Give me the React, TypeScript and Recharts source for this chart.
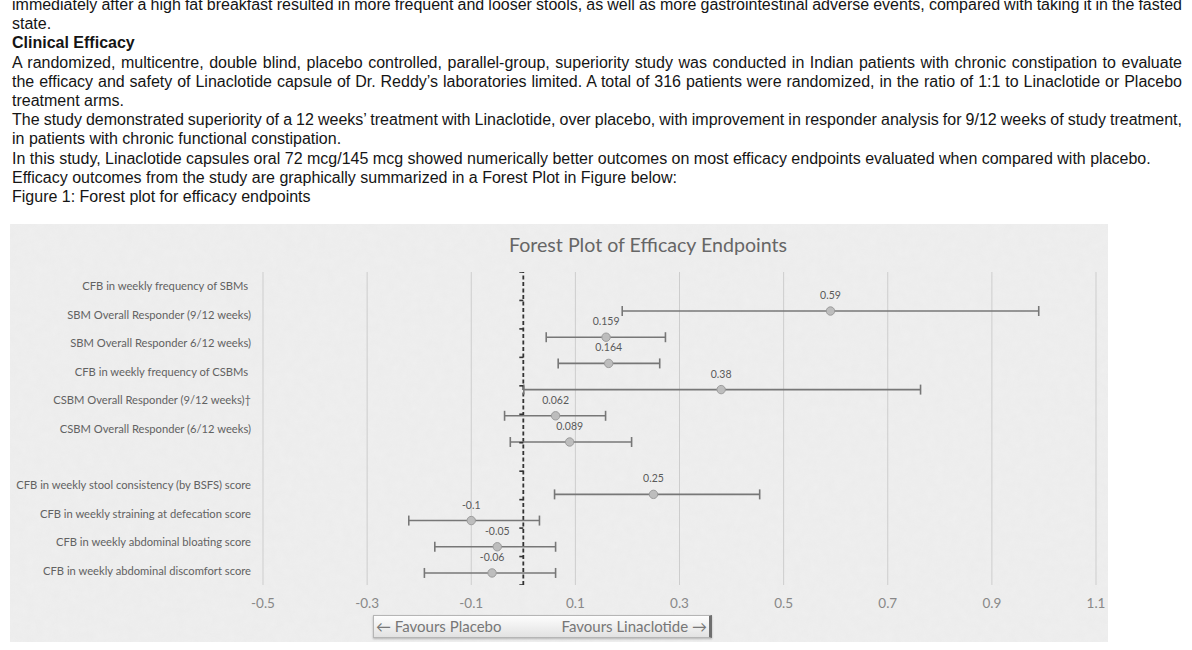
import React from 'react';
import { ScatterChart, Scatter, XAxis, YAxis, CartesianGrid, ReferenceLine, ErrorBar } from 'recharts';

const textLines = [
  'immediately after a high fat breakfast resulted in more frequent and looser stools, as well as more gastrointestinal adverse events, compared with taking it in the fasted',
  'state.',
  'Clinical Efficacy',
  'A randomized, multicentre, double blind, placebo controlled, parallel-group, superiority study was conducted in Indian patients with chronic constipation to evaluate',
  'the efficacy and safety of Linaclotide capsule of Dr. Reddy\u2019s laboratories limited. A total of 316 patients were randomized, in the ratio of 1:1 to Linaclotide or Placebo',
  'treatment arms.',
  'The study demonstrated superiority of a 12 weeks\u2019 treatment with Linaclotide, over placebo, with improvement in responder analysis for 9/12 weeks of study treatment,',
  'in patients with chronic functional constipation.',
  'In this study, Linaclotide capsules oral 72 mcg/145 mcg showed numerically better outcomes on most efficacy endpoints evaluated when compared with placebo.',
  'Efficacy outcomes from the study are graphically summarized in a Forest Plot in Figure below:',
  'Figure 1: Forest plot for efficacy endpoints',
];
const justifiedLines = [true, false, false, true, true, false, true, false, false, false, false];
const boldLines = [false, false, true, false, false, false, false, false, false, false, false];

const chartTitle = 'Forest Plot of Efficacy Endpoints';
const endpoints = [
  'CFB in weekly frequency of SBMs\u00a0',
  'SBM Overall Responder (9/12 weeks)',
  'SBM Overall Responder 6/12 weeks)',
  'CFB in weekly frequency of CSBMs\u00a0',
  'CSBM Overall Responder (9/12 weeks)\u2020',
  'CSBM Overall Responder (6/12 weeks)',
  '',
  'CFB in weekly stool consistency (by BSFS) score',
  'CFB in weekly straining at defecation score',
  'CFB in weekly abdominal bloating score',
  'CFB in weekly abdominal discomfort score',
];
const estimates = [0.59, 0.159, 0.164, 0.38, 0.062, 0.089, null, 0.25, -0.1, -0.05, -0.06];
const lowerCI = [0.19, 0.044, 0.067, 0.001, -0.036, -0.025, null, 0.06, -0.22, -0.17, -0.19];
const upperCI = [0.99, 0.273, 0.262, 0.763, 0.158, 0.208, null, 0.454, 0.031, 0.062, 0.062];
const xTicks = [-0.5, -0.3, -0.1, 0.1, 0.3, 0.5, 0.7, 0.9, 1.1];
const favoursLeft = '\u2190 Favours Placebo';
const favoursRight = 'Favours Linaclotide \u2192';

const rows = estimates
  .map((e, i) => ({
    x: e,
    y: i,
    label: e == null ? '' : String(e),
    err: e == null ? null : [e - (lowerCI[i] as number), (upperCI[i] as number) - e],
  }))
  .filter((r) => r.x != null);

const bandEdges = [...endpoints.map((_, i) => i - 0.5), endpoints.length - 0.5].map((b) => ({ x: 0, y: b }));
const labelIdx = endpoints.map((_, i) => i);

const FONT = 'Lato, "Open Sans", sans-serif';

const PointShape = (props: any) => {
  const { cx, cy, payload } = props;
  if (cx == null || cy == null) return null;
  return (
    <g>
      <circle cx={cx} cy={cy} r={4.2} fill="#bdbdbd" stroke="#9c9c9c" strokeWidth={1} />
      <text x={cx} y={cy - 12} textAnchor="middle" fontSize={10.5} fill="#5a5a5a" fontFamily={FONT}>
        {payload.label}
      </text>
    </g>
  );
};

const TickMark = (props: any) => {
  const { cx, cy } = props;
  if (cx == null || cy == null) return null;
  return <line x1={cx - 4} y1={cy} x2={cx} y2={cy} stroke="#333" strokeWidth={1.6} />;
};

const LabelTick = (props: any) => {
  const { x, y, payload } = props;
  return (
    <text x={x} y={y} dy={4} textAnchor="end" fontSize={11.2} fill="#626262" fontFamily={FONT}>
      {endpoints[payload.value]}
    </text>
  );
};

const XTick = (props: any) => {
  const { x, y, payload } = props;
  return (
    <text x={x} y={y} dy={15} textAnchor="middle" fontSize={13.5} fill="#888" fontFamily={FONT}>
      {payload.value.toFixed(1)}
    </text>
  );
};

export default function App() {
  return (
    <div style={{ position: 'absolute', left: 0, top: 0, width: 1192, height: 650, overflow: 'hidden', background: '#fff' }}>
      <div style={{ position: 'absolute', left: 12, top: -5, width: 1170, fontFamily: '"Liberation Sans", Arial, sans-serif', fontSize: 16, color: '#151515' }}>
        {textLines.map((t, i) => (
          <div
            key={i}
            style={{
              height: 19.2,
              lineHeight: '19.2px',
              fontWeight: boldLines[i] ? 700 : 400,
              textAlign: justifiedLines[i] ? 'justify' : 'left',
              textAlignLast: justifiedLines[i] ? 'justify' : 'left',
              wordSpacing: justifiedLines[i] ? -3 : 0,
            } as any}
          >
            {t}
          </div>
        ))}
      </div>
      <div style={{ position: 'absolute', left: 10, top: 224, width: 1098, height: 418, background: '#efefef', overflow: 'hidden' }}>
        <svg width={1098} height={418} style={{ position: 'absolute', left: 0, top: 0 }}>
          <filter id="paper">
            <feTurbulence type="fractalNoise" baseFrequency="0.12" numOctaves={2} seed={3} />
            <feColorMatrix type="matrix" values="0 0 0 0 0.55  0 0 0 0 0.55  0 0 0 0 0.55  0 0 0 0.22 0" />
          </filter>
          <rect width={1098} height={418} filter="url(#paper)" opacity={0.35} />
        </svg>
        <div style={{ position: 'absolute', left: 0, width: 1276, top: 9, textAlign: 'center', fontFamily: FONT, fontSize: 19.6, color: '#666' }}>
          {chartTitle}
        </div>
        <div style={{ position: 'absolute', left: 0, top: 0 }}>
          <ScatterChart width={1098} height={418} margin={{ top: 48, right: 12, bottom: 27, left: 0 }}>
            <CartesianGrid horizontal={false} stroke="#cdcdcd" strokeWidth={1} yAxisId="lab" />
            <XAxis
              type="number"
              dataKey="x"
              domain={[-0.5, 1.1]}
              ticks={xTicks}
              interval={0}
              allowDataOverflow
              axisLine={false}
              tickLine={false}
              tickSize={0}
              tickMargin={8}
              height={30}
              tick={<XTick />}
            />
            <YAxis
              yAxisId="lab"
              type="number"
              dataKey="y"
              domain={[-0.5, 10.5]}
              reversed
              ticks={labelIdx}
              interval={0}
              allowDataOverflow
              axisLine={false}
              tickLine={false}
              tickSize={0}
              tickMargin={12}
              width={253}
              tick={<LabelTick />}
            />
            <YAxis yAxisId="dat" type="number" dataKey="y" domain={[-1.49, 10.46]} reversed hide width={0} allowDataOverflow />
            <ReferenceLine x={0} yAxisId="lab" stroke="#333" strokeWidth={1.8} strokeDasharray="4 2.5" />
            <Scatter yAxisId="lab" data={bandEdges} shape={<TickMark />} isAnimationActive={false} />
            <Scatter yAxisId="dat" data={rows} shape={<PointShape />} isAnimationActive={false}>
              <ErrorBar dataKey="err" direction="x" width={5} stroke="#777" strokeWidth={1.6} />
            </Scatter>
          </ScatterChart>
        </div>
        <div
          style={{
            position: 'absolute',
            left: 363,
            top: 391,
            width: 331,
            height: 21,
            border: '1px solid #b5b5b5',
            borderRight: '3px solid #6f6f6f',
            background: 'linear-gradient(#fdfdfd, #e2e2e2)',
            boxShadow: '0 1px 2px rgba(0,0,0,0.25)',
            fontFamily: FONT,
            fontSize: 15,
            color: '#777',
            display: 'flex',
            justifyContent: 'space-between',
            alignItems: 'center',
            padding: '0 2px',
            lineHeight: '21px',
          }}
        >
          <span>{favoursLeft}</span>
          <span>{favoursRight}</span>
        </div>
      </div>
    </div>
  );
}
